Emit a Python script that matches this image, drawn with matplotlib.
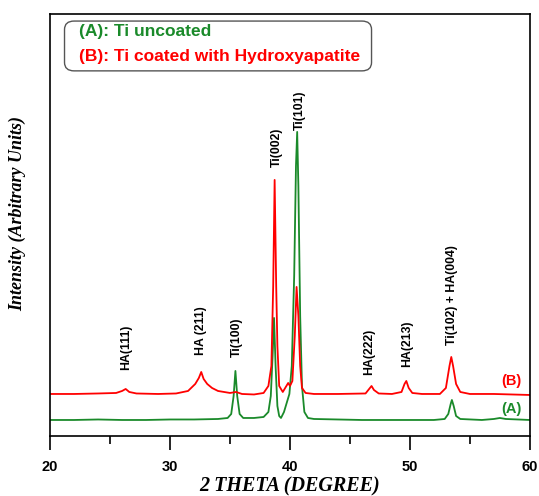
import matplotlib
matplotlib.use("Agg")
import matplotlib.pyplot as plt
from matplotlib.patches import FancyBboxPatch

# ---- data (2-theta in degrees, intensity in arbitrary units) ----
theta_A = [20, 22, 24, 26, 28, 30, 32, 34, 34.8, 35.1, 35.3, 35.45, 35.6, 35.8, 36.1,
           37, 37.8, 38.2, 38.4, 38.55, 38.67, 38.8, 38.95, 39.1, 39.25, 39.5, 39.75,
           39.95, 40.15, 40.35, 40.5, 40.6, 40.7, 40.85, 41.0, 41.2, 41.5, 42, 44, 46,
           48, 50, 52, 52.9, 53.2, 53.4, 53.5, 53.65, 53.85, 54.2, 56, 57, 57.5, 58, 60]
int_A = [16, 16, 16.5, 16, 16, 16.5, 16.5, 17, 18, 22, 40, 65, 40, 22, 18,
         18, 19, 24, 40, 80, 118, 70, 30, 20, 18, 24, 34,
         42, 70, 160, 270, 304, 250, 120, 50, 24, 18, 17, 16.5, 16,
         16, 16, 16, 17, 22, 32, 36, 30, 20, 17, 16, 17, 18, 17, 16]

theta_B = [20, 22, 24, 25.5, 26.0, 26.3, 26.6, 27.2, 29, 30.5, 31.5, 32.1, 32.4, 32.6,
           32.8, 33.1, 33.5, 34, 35, 35.5, 36, 37, 37.8, 38.2, 38.45, 38.6, 38.72,
           38.85, 38.95, 39.1, 39.4, 39.7, 39.85, 40.0, 40.2, 40.4, 40.55, 40.7, 40.85,
           41.0, 41.3, 42, 44, 46.3, 46.6, 46.8, 47.0, 47.4, 48.5, 49.3, 49.55, 49.7,
           49.9, 50.2, 51, 52.5, 53.0, 53.3, 53.45, 53.6, 53.85, 54.2, 55, 57, 60]
int_B = [42, 42, 42.5, 43, 45, 47, 44, 42.5, 42, 42.5, 45, 52, 58, 64,
         57, 52, 48, 45, 43, 44, 42, 41.5, 43, 50, 70, 150, 256,
         150, 90, 50, 44, 50, 53, 50, 55, 100, 149, 120, 70,
         48, 43, 42, 42, 42.5, 47, 50, 46, 42.5, 42, 44, 52, 55,
         48, 43, 42, 42, 48, 70, 79, 70, 52, 44, 42, 42, 41]

# peak annotations
peak_labels = ["HA(111)", "HA (211)", "Ti(100)", "Ti(002)", "Ti(101)",
               "HA(222)", "HA(213)", "Ti(102) + HA(004)"]
peak_x = [26.3, 32.6, 35.6, 38.9, 40.8, 46.6, 49.8, 53.5]
peak_y = [66, 81, 79, 269, 306, 61, 69, 91]

x_ticks = [20, 30, 40, 50, 60]

GREEN = "#1a8a2a"
RED = "#ff0000"

fig = plt.figure(figsize=(5.39, 4.96), dpi=100)
ax = fig.add_axes([0.093, 0.121, 0.890, 0.851])

ax.plot(theta_A, int_A, color=GREEN, lw=1.3)
ax.plot(theta_B, int_B, color=RED, lw=1.3)

ax.set_xlim(20, 60)
ax.set_ylim(0, 422)
ax.set_xticks(x_ticks)
ax.set_xticks(range(25, 60, 10), minor=True)
ax.set_yticks([])
ax.tick_params(axis="x", which="major", direction="out", length=10, width=1.2,
               labelsize=10.5, pad=7)
ax.tick_params(axis="x", which="minor", direction="out", length=6, width=1.2)
for lab in ax.get_xticklabels():
    lab.set_fontweight("bold")
    lab.set_family("Liberation Sans")
for s in ax.spines.values():
    s.set_linewidth(1.2)

ax.set_xlabel("2 THETA (DEGREE)", family="Liberation Serif", style="italic",
              weight="bold", fontsize=14.5, labelpad=2)
ax.set_ylabel("Intensity (Arbitrary Units)", family="Liberation Serif",
              style="italic", weight="bold", fontsize=13)
ax.yaxis.set_label_coords(-0.05, 0.528)

for lab, px, py in zip(peak_labels, peak_x, peak_y):
    ax.text(px, py, lab, rotation=90, ha="center", va="bottom",
            family="Liberation Sans", weight="bold", fontsize=8.8)

ax.text(58.5, 55, "(B)", color=RED, ha="center", va="center",
        family="Liberation Sans", weight="bold", fontsize=10.5)
ax.text(58.5, 27, "(A)", color=GREEN, ha="center", va="center",
        family="Liberation Sans", weight="bold", fontsize=10.5)

# legend box
box = FancyBboxPatch((0.03, 0.865), 0.64, 0.118, transform=ax.transAxes,
                     boxstyle="round,pad=0,rounding_size=0.02",
                     fc="white", ec="#555555", lw=1.0)
ax.add_patch(box)
ax.text(0.06, 0.958, "(A): Ti uncoated", color=GREEN, transform=ax.transAxes,
        family="Liberation Sans", weight="bold", fontsize=12.5, va="center")
ax.text(0.06, 0.900, "(B): Ti coated with Hydroxyapatite", color=RED,
        transform=ax.transAxes, family="Liberation Sans", weight="bold",
        fontsize=12.5, va="center")

fig.savefig("out.png", dpi=100)
